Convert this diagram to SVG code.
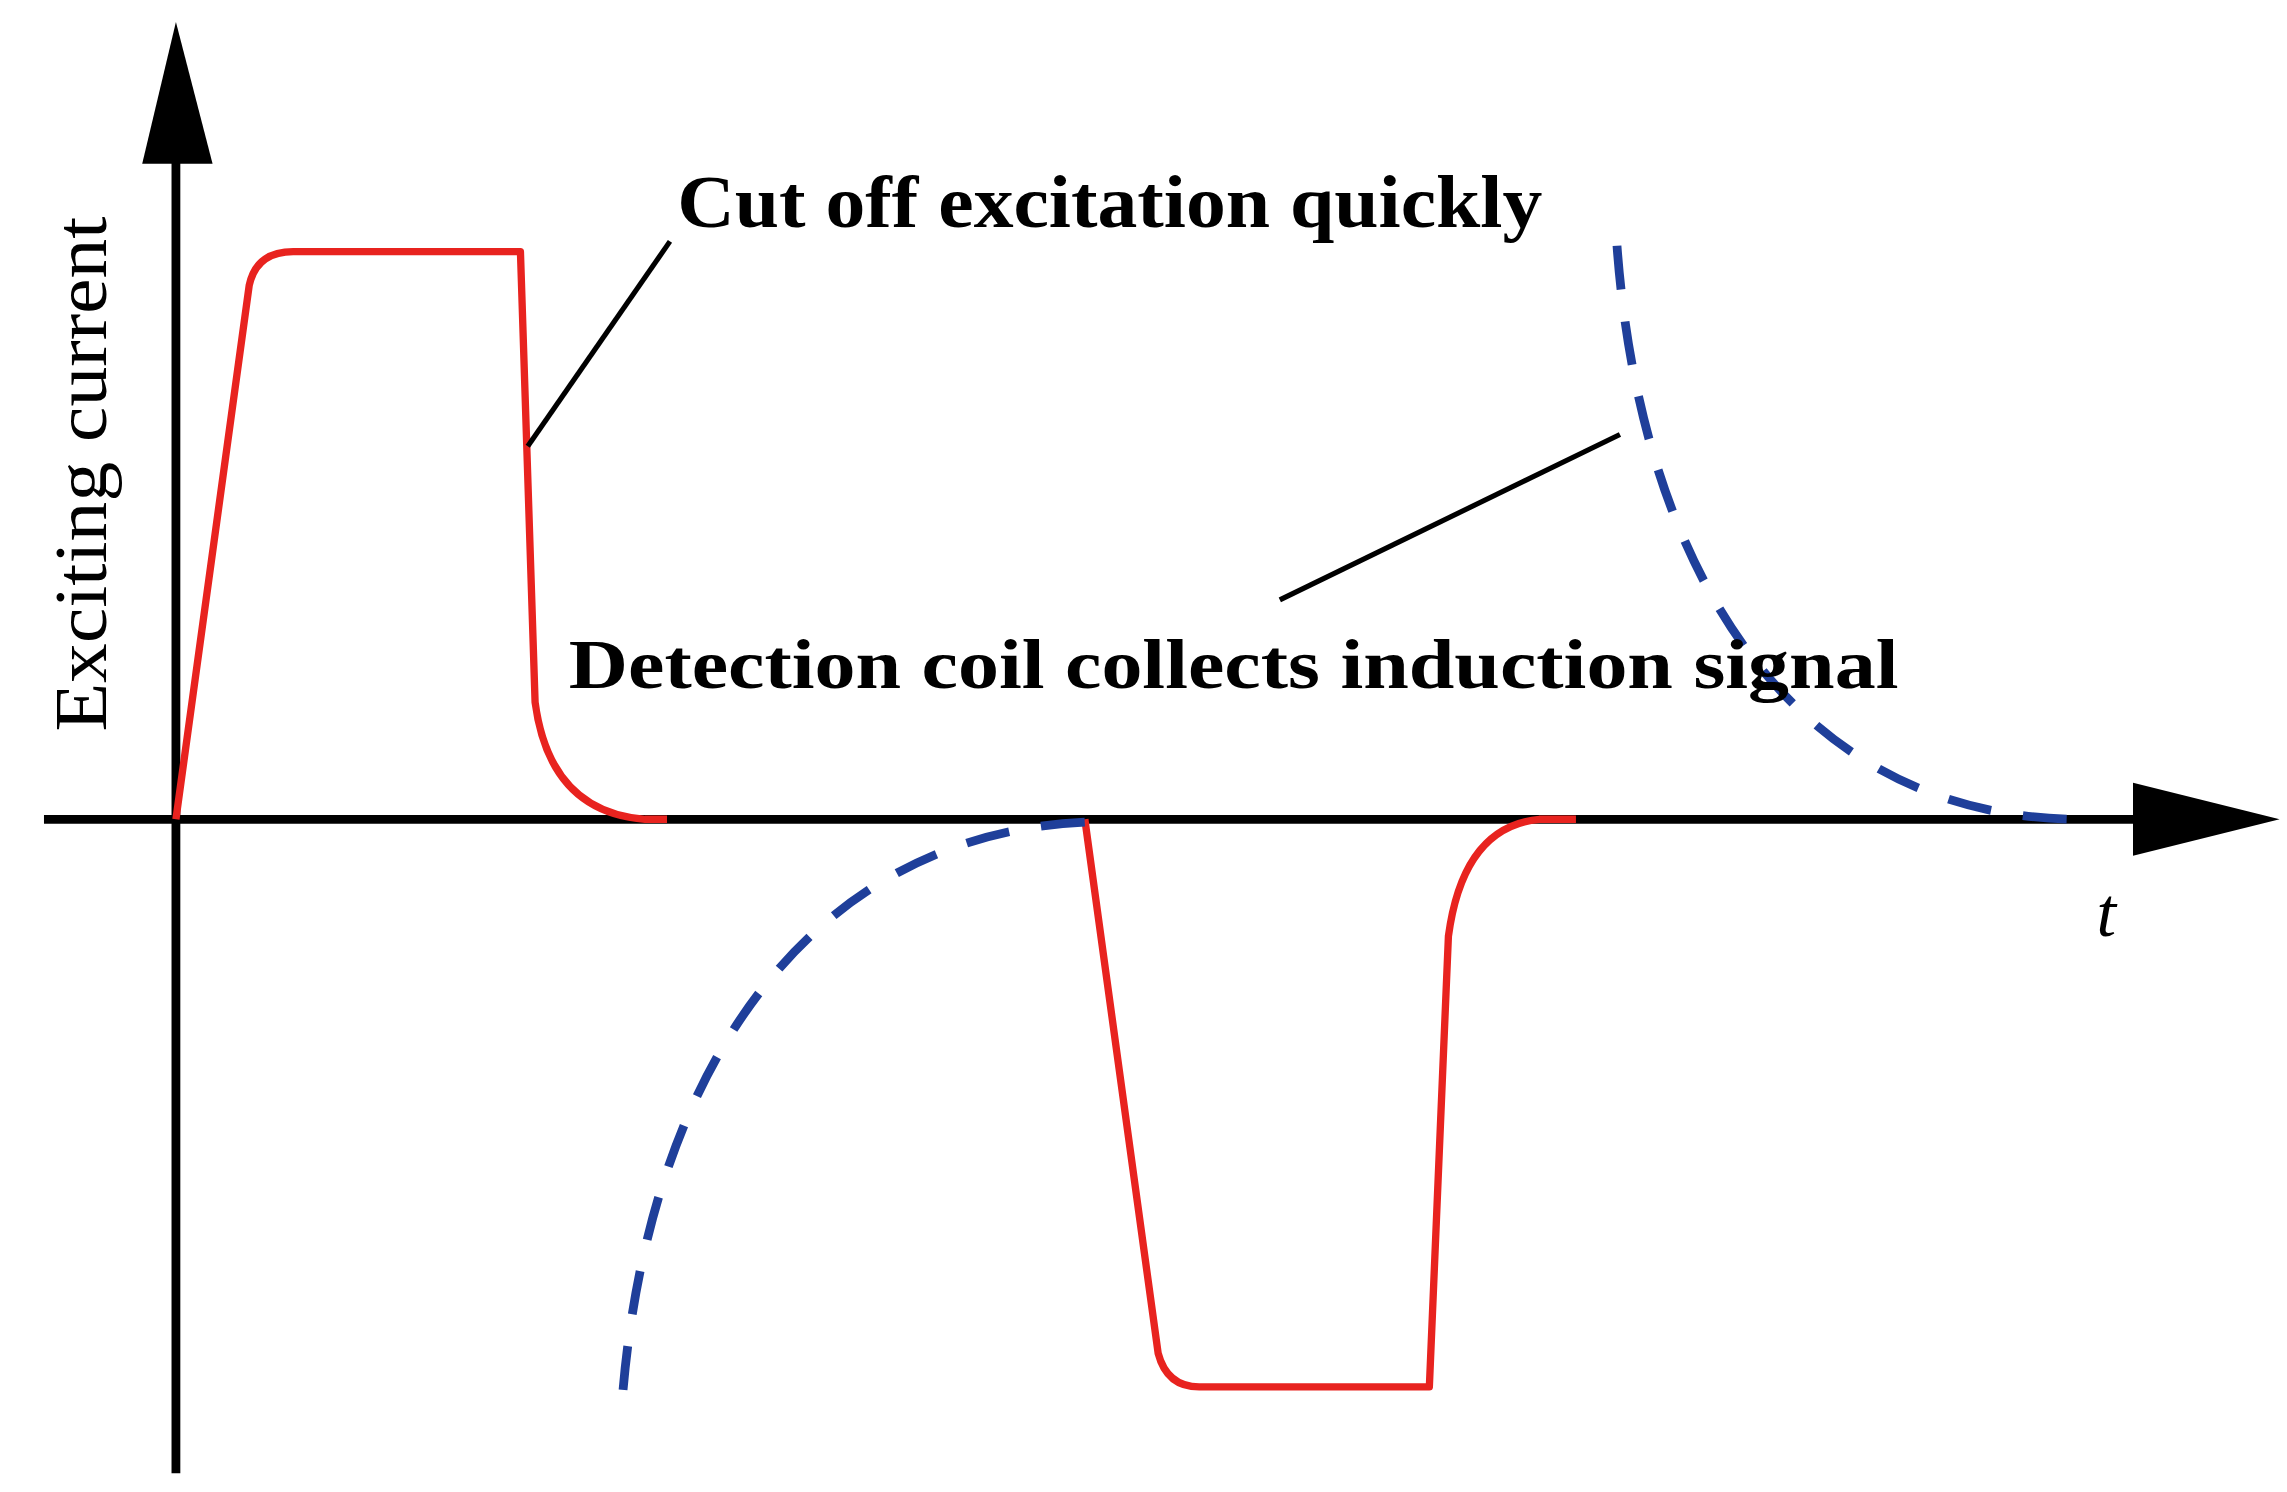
<svg xmlns="http://www.w3.org/2000/svg" width="2287" height="1492" viewBox="0 0 2287 1492">
<style>
.ax{stroke:#000;stroke-width:6;fill:none}
.red{stroke:#e8231f;stroke-width:5;fill:none;stroke-linejoin:round}
.blue{stroke:#1f3f9a;stroke-width:6;fill:none;stroke-dasharray:30 22}
.lead{stroke:#000;stroke-width:3.5;fill:none}
.t{font-family:"Liberation Serif",serif;fill:#000}
</style>
<rect width="2287" height="1492" fill="#fff"/>
<g transform="scale(1.466 1.463)">
<g id="axes">
<line class="ax" x1="120" y1="1007" x2="120" y2="105"/>
<polygon points="120,15 97,112 145,112" fill="#000"/>
<line class="ax" x1="30" y1="560" x2="1460" y2="560"/>
<polygon points="1555,560 1455,535 1455,585" fill="#000"/>
</g>
<g id="signals">
<path class="red" d="M120,560 L170,195 Q175,172 200,172 L355,172 L365,480 Q375,555 440,560 L455,560"/>
<path class="red" d="M740,560 L790,925 Q796,948 818,948 L975,948 L988,640 Q998,565 1050,560 L1075,560"/>
<path class="blue" d="M425,950 C445,720 560,570 740,562"/>
<path class="blue" d="M1103,168 C1120,400 1230,560 1420,560"/>
</g>
<g id="connectors">
<line class="lead" x1="360" y1="305" x2="457" y2="165"/>
<line class="lead" x1="873" y1="410" x2="1105" y2="297"/>
</g>
<g id="labels">
<text class="t" x="462" y="155" font-size="50" font-weight="bold" textLength="590" lengthAdjust="spacingAndGlyphs">Cut off excitation quickly</text>
<text class="t" x="388" y="470" font-size="48" font-weight="bold" textLength="907" lengthAdjust="spacingAndGlyphs">Detection coil collects induction signal</text>
<text class="t" transform="translate(72,324) rotate(-90)" text-anchor="middle" font-size="50" textLength="352" lengthAdjust="spacingAndGlyphs">Exciting current</text>
<text class="t" x="1430" y="640" font-size="48" font-style="italic">t</text>
</g>
</g>
</svg>
